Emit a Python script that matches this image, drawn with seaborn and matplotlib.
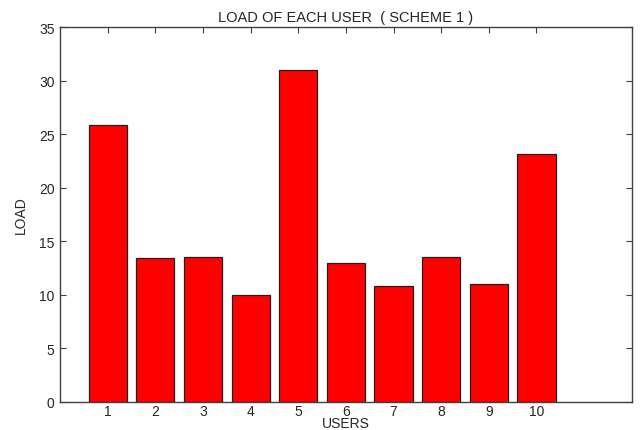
import matplotlib
matplotlib.use("Agg")
import matplotlib.pyplot as plt
import seaborn as sns
import pandas as pd

users = ["1", "2", "3", "4", "5", "6", "7", "8", "9", "10"]
load = [25.9, 13.4, 13.5, 10.0, 31.0, 13.0, 10.8, 13.5, 11.0, 23.2]

sns.set_style("white")
plt.rcParams["font.family"] = ["Liberation Sans", "DejaVu Sans"]

df = pd.DataFrame({"user": users, "load": load})

fig = plt.figure(figsize=(6.41, 4.31), dpi=100)
ax = fig.add_axes([0.0936, 0.066, 0.892, 0.868])

sns.barplot(data=df, x="user", y="load", order=users, color="#ff0000",
            saturation=1, width=0.8, edgecolor="#202020", linewidth=0.9, ax=ax)

ax.set_xlim(-1, 11)
ax.set_ylim(0, 35)
ax.set_yticks(range(0, 36, 5))
ax.set_xlabel("USERS", fontsize=10, labelpad=-1)
ax.set_ylabel("LOAD", fontsize=10, labelpad=8)
ax.set_title("LOAD OF EACH USER  ( SCHEME 1 )", fontsize=10.5, pad=5)

for s in ax.spines.values():
    s.set_visible(True)
    s.set_color("#404040")
    s.set_linewidth(1.0)

ax.tick_params(direction="in", length=4, width=0.8, color="#404040",
               top=True, right=True, bottom=True, left=True,
               labelsize=10, pad=4)
ax.tick_params(axis="x", pad=1.5)

fig.savefig("out.png", dpi=100)
